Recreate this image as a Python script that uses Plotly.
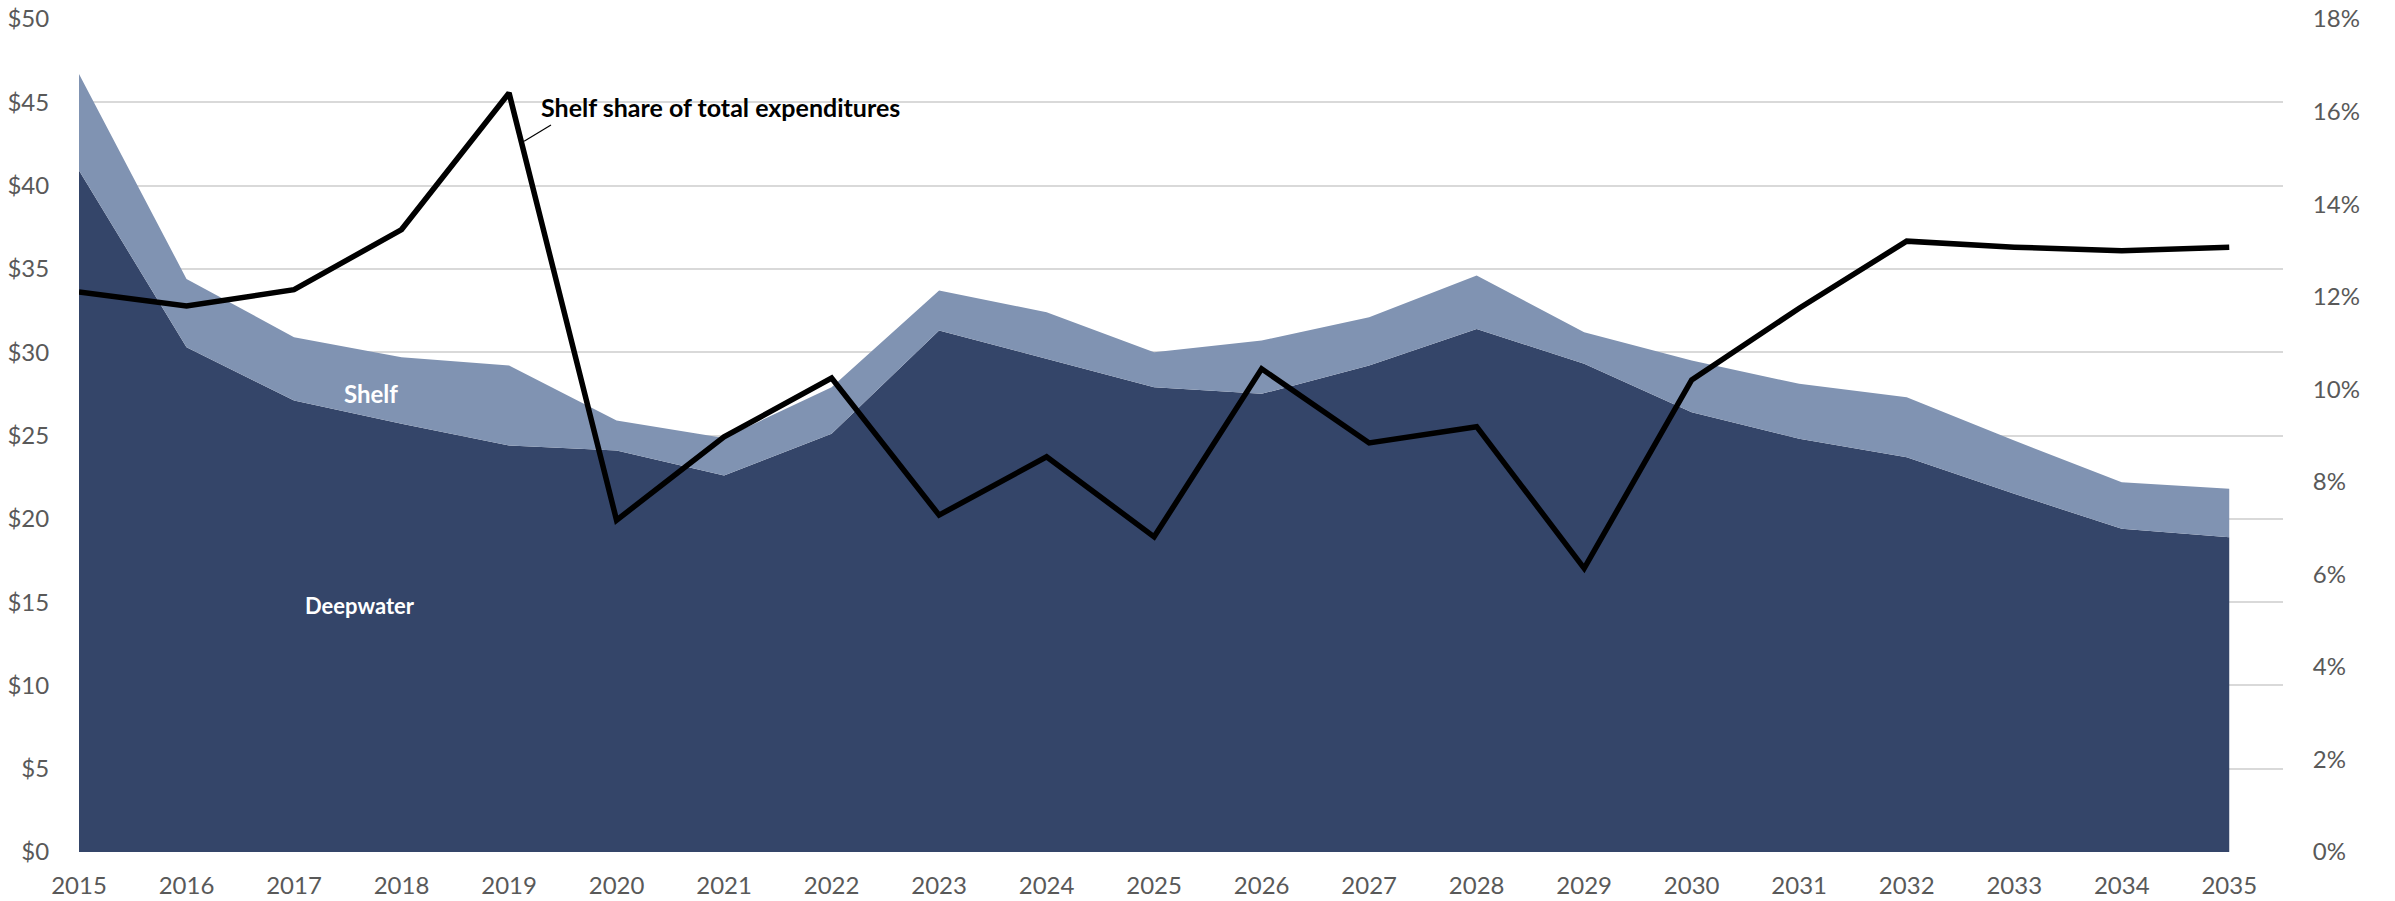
import plotly.graph_objects as go

# Offshore expenditures by water depth, $ billions, with the shelf share of the total
years = list(range(2015, 2036))
deepwater = [40.9, 30.3, 27.1, 25.7, 24.4, 24.1, 22.6, 25.1, 31.3, 29.6, 27.9,
             27.5, 29.2, 31.4, 29.3, 26.4, 24.8, 23.7, 21.5, 19.4, 18.9]
shelf = [5.8, 4.1, 3.8, 4.0, 4.8, 1.8, 2.25, 2.8, 2.4, 2.8, 2.1,
         3.2, 2.9, 3.2, 1.9, 3.1, 3.3, 3.6, 3.2, 2.8, 2.9]
shelf_share = [12.1, 11.8, 12.15, 13.45, 16.4, 7.17, 8.97, 10.24, 7.28, 8.54, 6.81,
               10.44, 8.84, 9.19, 6.13, 10.2, 11.75, 13.2, 13.07, 12.99, 13.07]

left_ticks = list(range(0, 55, 5))
left_labels = [f"${v}" for v in left_ticks]
right_ticks = list(range(0, 20, 2))
right_labels = [f"{v}%" for v in right_ticks]

DEEP = "#344569"
SHELF = "#8093B2"
GRID = "#D9D9D9"
TICK = "#595959"
FONT = "Lato"

fig = go.Figure()
fig.add_trace(go.Scatter(
    x=years, y=deepwater, name="Deepwater", stackgroup="depth",
    mode="lines", line=dict(width=0, color=DEEP), fillcolor=DEEP,
))
fig.add_trace(go.Scatter(
    x=years, y=shelf, name="Shelf", stackgroup="depth",
    mode="lines", line=dict(width=0, color=SHELF), fillcolor=SHELF,
))
fig.add_trace(go.Scatter(
    x=years, y=shelf_share, name="Shelf share of total expenditures",
    yaxis="y2", mode="lines", line=dict(color="black", width=5.5),
))

fig.update_layout(
    width=2395, height=901,
    margin=dict(l=79, r=112, t=19, b=49),
    paper_bgcolor="white", plot_bgcolor="white",
    showlegend=False, hovermode=False,
    font=dict(family=FONT, color=TICK, size=24),
    xaxis=dict(
        range=[2015, 2035.5], tickmode="array", tickvals=years,
        ticktext=[str(y) for y in years], automargin=False,
        showgrid=False, zeroline=False, showline=False,
        ticks="outside", ticklen=12, tickcolor="rgba(0,0,0,0)",
        tickfont=dict(family=FONT, size=24, color=TICK),
    ),
    yaxis=dict(
        range=[0, 50], tickmode="array", tickvals=left_ticks, ticktext=left_labels,
        automargin=False,
        showgrid=True, gridcolor=GRID, gridwidth=1.5, zeroline=False, showline=False,
        ticks="outside", ticklen=24, tickcolor="rgba(0,0,0,0)",
        tickfont=dict(family=FONT, size=24, color=TICK),
    ),
    yaxis2=dict(
        range=[0, 18], overlaying="y", side="right", automargin=False,
        tickmode="array", tickvals=right_ticks, ticktext=right_labels,
        showgrid=False, zeroline=False, showline=False,
        ticks="outside", ticklen=24, tickcolor="rgba(0,0,0,0)",
        tickfont=dict(family=FONT, size=24, color=TICK),
    ),
)

# Series labels inside the areas
fig.add_annotation(x=2017.61, y=14.8, xref="x", yref="y", yanchor="middle",
                   text="<b>Deepwater</b>", showarrow=False,
                   font=dict(family=FONT, size=22, color="white"))
fig.add_annotation(x=2017.72, y=27.5, xref="x", yref="y", yanchor="middle",
                   text="<b>Shelf</b>", showarrow=False,
                   font=dict(family=FONT, size=24, color="white"))

# Callout for the share line with a short leader
fig.add_annotation(x=2019.28, y=16.1, xref="x", yref="y2", xanchor="left", yanchor="middle",
                   text="<b>Shelf share of total expenditures</b>", showarrow=False,
                   font=dict(family=FONT, size=25, color="black"))
fig.add_shape(type="line", xref="x", yref="y2",
              x0=2019.14, y0=15.36, x1=2019.39, y1=15.71,
              line=dict(color="black", width=1.2))

fig.write_html("out.html")
